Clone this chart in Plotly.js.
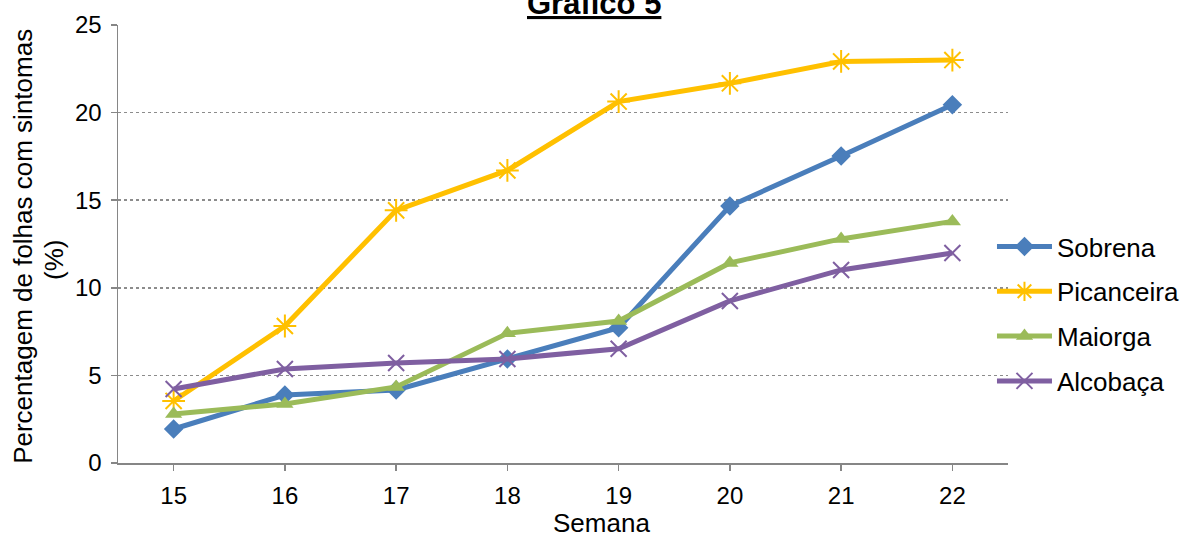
<!DOCTYPE html>
<html>
<head>
<meta charset="utf-8">
<script src="https://cdn.plot.ly/plotly-3.0.1.min.js"></script>
<style>html,body{margin:0;padding:0;background:#fff;}#chart{width:1182px;height:534px;}</style>
</head>
<body>
<div id="chart"></div>
<script>
const weeks = ["15","16","17","18","19","20","21","22"];
const sobrena = [1.94, 3.88, 4.17, 5.94, 7.72, 14.67, 17.52, 20.45];
const picanceira = [3.54, 7.82, 14.42, 16.7, 20.63, 21.67, 22.92, 23.0];
const maiorga = [2.8, 3.37, 4.34, 7.4, 8.1, 11.42, 12.79, 13.79];
const alcobaca = [4.22, 5.37, 5.71, 5.94, 6.52, 9.25, 11.02, 11.99];

const names = ["Sobrena", "Picanceira", "Maiorga", "Alcobaça"];
const colors = ["#4a7ebb", "#ffc000", "#9bbb59", "#7f5fa1"];
const symbols = ["diamond", "asterisk-open", "triangle-up", "x-thin-open"];
const sizes = [15, 19, 15, 16];
const series = [sobrena, picanceira, maiorga, alcobaca];

const traces = series.map((ys, i) => ({
  x: weeks, y: ys, name: names[i], type: "scatter", mode: "lines+markers",
  legendgroup: "g" + i,
  line: {color: colors[i], width: 5},
  marker: {symbol: symbols[i], size: sizes[i], color: colors[i],
           line: {color: colors[i], width: (i === 1 || i === 3) ? 2 : 0}}
}));

const FONT = "Liberation Sans, Arial, sans-serif";
const layout = {
  width: 1182, height: 534,
  margin: {l: 118, r: 174, t: 25, b: 71, autoexpand: false},
  paper_bgcolor: "#fff", plot_bgcolor: "#fff",
  font: {family: FONT, color: "#000", size: 24},
  xaxis: {type: "category", range: [-0.5, 7.5], showgrid: false, zeroline: false,
          showline: true, linecolor: "#868686", linewidth: 1.5,
          ticks: "outside", ticklen: 6, tickcolor: "#868686", tickwidth: 1.5,
          ticklabelstandoff: 5, tickfont: {size: 24}, automargin: false},
  yaxis: {range: [0, 25], dtick: 5, showgrid: true, gridcolor: "#8c8c8c", griddash: "dot", gridwidth: 1.5,
          zeroline: false, showline: true, linecolor: "#868686", linewidth: 1.5,
          ticks: "outside", ticklen: 6, tickcolor: "#868686", tickwidth: 1.5,
          ticklabelstandoff: 4, tickfont: {size: 24}, automargin: false},
  legend: {x: 0.982, xanchor: "left", y: 0.34, yanchor: "middle",
           font: {size: 26}, traceorder: "grouped", tracegroupgap: 8, itemwidth: 55,
           bgcolor: "rgba(0,0,0,0)"},
  showlegend: true,
  annotations: [
    {text: "<b><u>Gráfico 5</u></b>", xref: "paper", yref: "paper", x: 0.535, y: 1.05,
     xanchor: "center", yanchor: "middle", showarrow: false, font: {size: 31, color: "#000"}},
    {text: "Semana", xref: "paper", yref: "paper", x: 0.543, y: -0.137,
     xanchor: "center", yanchor: "middle", showarrow: false, font: {size: 26}},
    {text: "Percentagem de folhas com sintomas", xref: "paper", yref: "paper", x: -0.106, y: 0.495,
     xanchor: "center", yanchor: "middle", textangle: -90, showarrow: false, font: {size: 26}},
    {text: "(%)", xref: "paper", yref: "paper", x: -0.072, y: 0.4635,
     xanchor: "center", yanchor: "middle", textangle: -90, showarrow: false, font: {size: 26}}
  ]
};

Plotly.newPlot("chart", traces, layout, {displayModeBar: false, staticPlot: true});
</script>
</body>
</html>
